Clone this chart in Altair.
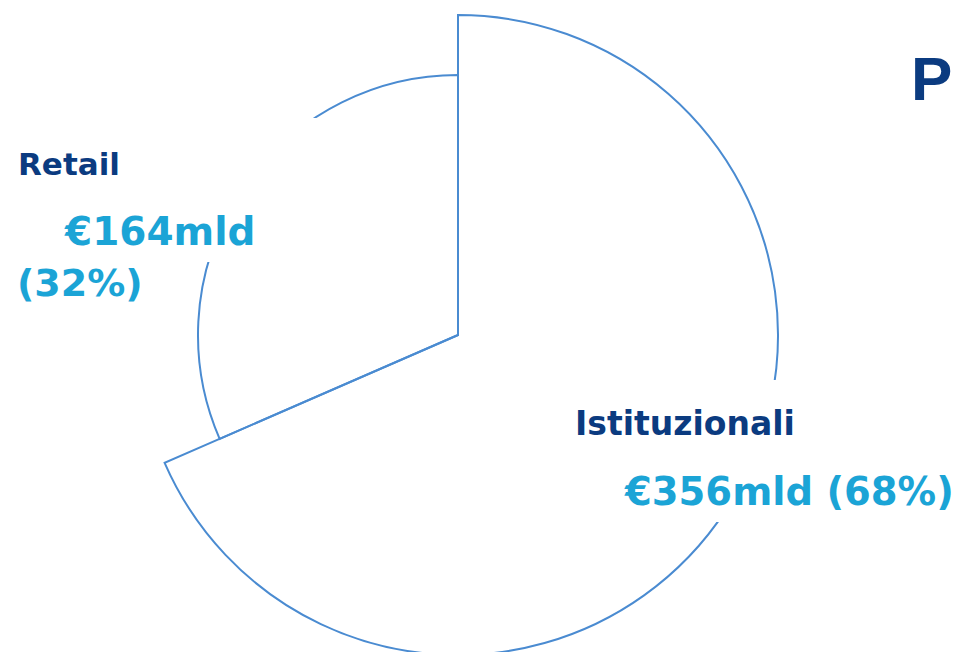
import altair as alt
import pandas as pd

categories = ["Istituzionali", "Retail"]
values_bn = [356, 164]
shares_pct = [68, 32]
title_fragment = "Pa"

pie_df = pd.DataFrame({"category": categories, "value": values_bn, "pct": shares_pct})
one = pd.DataFrame({"k": [0]})

STROKE = "#4a8bd1"
NAVY = "#0b3b80"
CYAN = "#1ba4d6"
CX, CY = 450, 327


def wedge(cat, radius):
    return (
        alt.Chart(pie_df)
        .transform_joinaggregate(total="sum(value)")
        .transform_window(cum="sum(value)", frame=[None, 0])
        .transform_calculate(
            t0="(datum.cum - datum.value) / datum.total * 2 * PI",
            t1="datum.cum / datum.total * 2 * PI",
        )
        .transform_filter(alt.datum.category == cat)
        .mark_arc(radius=radius, fill="white", fillOpacity=0, stroke=STROKE, strokeWidth=2)
        .encode(
            theta=alt.Theta("t0:Q", scale=None),
            theta2="t1:Q",
            x=alt.value(CX),
            y=alt.value(CY),
        )
    )


ist = wedge("Istituzionali", 320)
ret = wedge("Retail", 260)

# white text-box backgrounds that hide the arcs behind the labels
box_left = alt.Chart(one).mark_rect(fill="white").encode(
    x=alt.value(2), x2=alt.value(322), y=alt.value(110), y2=alt.value(254)
)
box_right = alt.Chart(one).mark_rect(fill="white").encode(
    x=alt.value(562), x2=alt.value(945), y=alt.value(372), y2=alt.value(514)
)


def label(text, x, y, color, size, font="DejaVu Sans"):
    return alt.Chart(one).mark_text(
        text=text, align="left", baseline="alphabetic", font=font,
        fontWeight="bold", fontSize=size, color=color,
    ).encode(x=alt.value(x), y=alt.value(y))


ist_row = pie_df[pie_df.category == "Istituzionali"].iloc[0]
ret_row = pie_df[pie_df.category == "Retail"].iloc[0]

texts = [
    label(ret_row.category, 10, 167, NAVY, 31),
    label(f"€{ret_row.value}mld", 57, 237, CYAN, 39),
    label(f"({ret_row.pct}%)", 9, 288, CYAN, 38),
    label(ist_row.category, 567, 427, NAVY, 33),
    label(f"€{ist_row.value}mld ({ist_row.pct}%)", 617, 497, CYAN, 38.5),
    label(title_fragment, 903, 92, NAVY, 62, font="Liberation Sans"),
]

chart = alt.layer(ist, ret, box_left, box_right, *texts).properties(
    width=945,
    height=644,
    padding=0,
    autosize=alt.AutoSizeParams(type="fit", contains="padding"),
    background="white",
).configure_view(stroke=None)

chart.save("out.html", embed_options={"renderer": "svg", "actions": False})
